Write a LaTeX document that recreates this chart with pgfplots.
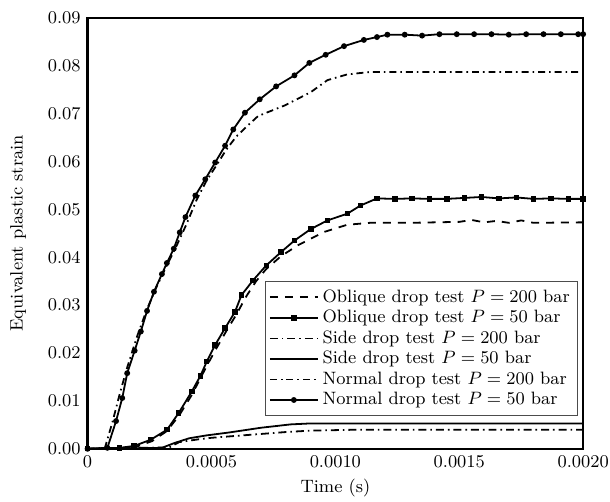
\documentclass[border=0pt]{standalone}
\usepackage{pgfplots}
\pgfplotsset{compat=1.18}
\begin{document}
\begin{tikzpicture}
\useasboundingbox (-44pt,-26.5pt) rectangle (262.5pt,225.5pt);
\begin{axis}[
  at={(0pt,0pt)}, anchor=south west,
  width=249pt, height=216.5pt, scale only axis,
  xmin=0, xmax=0.002, ymin=0, ymax=0.09,
  xtick={0,0.0005,0.001,0.0015,0.002},
  xticklabels={0,0.0005,0.0010,0.0015,0.0020},
  ytick={0,0.01,0.02,0.03,0.04,0.05,0.06,0.07,0.08,0.09},
  yticklabels={0.00,0.01,0.02,0.03,0.04,0.05,0.06,0.07,0.08,0.09},
  scaled ticks=false,
  major tick length=0pt,
  axis line style={line width=1.2pt},
  tick label style={font=\fontsize{9}{10}\selectfont},
  label style={font=\fontsize{9}{10}\selectfont},
  xlabel={Time (s)}, ylabel={Equivalent plastic strain},
  xlabel style={at={(axis description cs:0.5,-0.09)}, anchor=center},
  ylabel style={at={(axis description cs:-0.14,0.5)}, anchor=center},
  legend style={at={(rel axis cs:0.99,0.076)}, anchor=south east, draw=black!70, line width=0.4pt,
    font=\fontsize{9}{10}\selectfont, row sep=-1.5pt, inner sep=2pt},
  legend cell align=left,
  legend image code/.code={\draw[mark repeat=2,mark phase=2,#1] plot coordinates {(0pt,0pt) (12pt,0pt) (24pt,0pt)};},
  every axis plot/.append style={line width=0.9pt},
]
% Oblique 200
\addplot[black, dash pattern=on 4pt off 3.5pt] coordinates {
(0,0) (0.00013,0.0001) (0.0002,0.0005) (0.00026,0.0016) (0.00032,0.0037) (0.00037,0.0070)
(0.00042,0.0112) (0.00048,0.0172) (0.00052,0.0210) (0.00056,0.0246) (0.0006,0.0280)
(0.00064,0.0318) (0.00068,0.0350) (0.00072,0.0375) (0.00078,0.0402) (0.000848,0.0425)
(0.000955,0.0453) (0.001048,0.0468) (0.00114,0.0472) (0.0013,0.0472) (0.0015,0.0474)
(0.00155,0.0478) (0.0016,0.0473) (0.00165,0.0476) (0.0017,0.0472) (0.00175,0.0477)
(0.0018,0.0472) (0.002,0.0473)};
\addlegendentry{Oblique drop test $P=200$ bar}
% Oblique 50
\addplot[black, mark=square*, mark size=0.9pt] coordinates {
(0,0) (0.00013,0.0002) (0.000188,0.0006) (0.000255,0.0019) (0.000321,0.0040) (0.000368,0.0075)
(0.000421,0.0120) (0.000455,0.0152) (0.000481,0.0182) (0.000515,0.0217) (0.000555,0.0252)
(0.000595,0.0286) (0.000621,0.0321) (0.000668,0.0352) (0.000721,0.0383) (0.000781,0.0411)
(0.000835,0.0435) (0.000901,0.0459) (0.000968,0.0477) (0.001048,0.0491) (0.001101,0.0508)
(0.001168,0.0523) (0.00124,0.0522) (0.00131,0.0523) (0.00138,0.0522) (0.00145,0.0522)
(0.00152,0.0524) (0.00159,0.0526) (0.00166,0.0523) (0.00173,0.0525) (0.0018,0.0522)
(0.00187,0.0523) (0.00194,0.0522) (0.002,0.0522)};
\addlegendentry{Oblique drop test $P=50$ bar}
% Side 200
\addplot[black, dash pattern=on 4pt off 2pt on 0.8pt off 2pt] coordinates {
(0,0) (0.00033,0.0003) (0.00037,0.0014) (0.00045,0.0020) (0.0005,0.0023) (0.0006,0.0027)
(0.0007,0.0031) (0.0008,0.0035) (0.0009,0.0038) (0.001,0.0039) (0.0011,0.0040) (0.002,0.0040)};
\addlegendentry{Side drop test $P=200$ bar}
% Side 50
\addplot[black] coordinates {
(0,0) (0.0003,0.0002) (0.00035,0.0012) (0.00041,0.0022) (0.00048,0.0028) (0.00057,0.0034)
(0.0007,0.0044) (0.00082,0.0051) (0.0009,0.0053) (0.001,0.0053) (0.002,0.0053)};
\addlegendentry{Side drop test $P=50$ bar}
% Normal 200
\addplot[black, dash pattern=on 3.5pt off 2pt on 0.8pt off 2pt] coordinates {
(0,0) (0.00007,0.0002) (0.0001,0.0055) (0.00013,0.0115) (0.00016,0.0170) (0.0002,0.0235)
(0.00024,0.0292) (0.00028,0.0340) (0.00032,0.0383) (0.00036,0.0425) (0.0004,0.0470)
(0.00044,0.0520) (0.00048,0.0560) (0.00052,0.0592) (0.00056,0.0625) (0.0006,0.0652)
(0.00064,0.0672) (0.000688,0.0695) (0.000795,0.0717) (0.000901,0.0745) (0.000968,0.0770)
(0.001048,0.0782) (0.00114,0.0787) (0.002,0.0787)};
\addlegendentry{Normal drop test $P=200$ bar}
% Normal 50
\addplot[black, mark=*, mark size=1pt] coordinates {
(0,0) (0.00008,0.0002) (0.000115,0.0058) (0.00014,0.0106) (0.00016,0.0158) (0.00019,0.0205)
(0.000215,0.0245) (0.00024,0.0288) (0.000268,0.0328) (0.0003,0.0365) (0.00032,0.0388)
(0.000348,0.0418) (0.000372,0.0452) (0.000395,0.0484) (0.000435,0.0529) (0.000475,0.0563)
(0.000515,0.0598) (0.000555,0.0633) (0.000588,0.0667) (0.000635,0.0702) (0.000695,0.0730)
(0.000761,0.0757) (0.000835,0.0780) (0.000895,0.0806) (0.000961,0.0823) (0.001035,0.0841)
(0.001115,0.0854) (0.001168,0.0860) (0.00121,0.0865) (0.00128,0.0865) (0.00135,0.0863)
(0.00142,0.0866) (0.00149,0.0866) (0.00156,0.0866) (0.00163,0.0866) (0.0017,0.0865)
(0.00177,0.0866) (0.00184,0.0866) (0.00191,0.0866) (0.00198,0.0866) (0.002,0.0866)};
\addlegendentry{Normal drop test $P=50$ bar}
\end{axis}
\end{tikzpicture}
\end{document}
